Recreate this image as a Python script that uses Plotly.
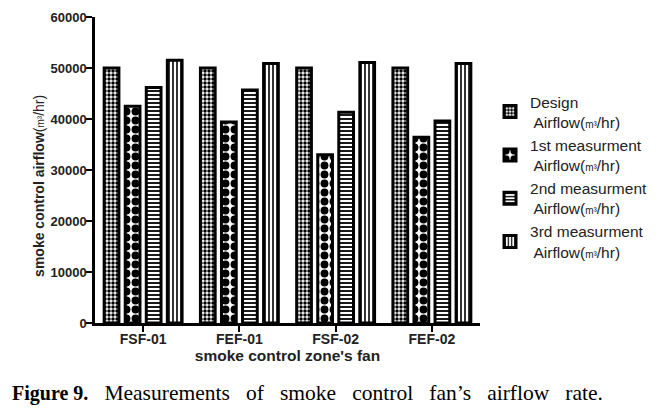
import plotly.graph_objects as go

categories = ["FSF-01", "FEF-01", "FSF-02", "FEF-02"]
design = [50000, 50000, 50000, 50000]
first = [42500, 39400, 33000, 36400]
second = [46200, 45700, 41300, 39600]
third = [51500, 50900, 51100, 50900]
y_ticks = [0, 10000, 20000, 30000, 40000, 50000, 60000]
y_tick_labels = ["0", "10000", "20000", "30000", "40000", "50000", "60000"]

unit = "Airflow(<span style='font-size:10px'>m³</span>/hr)"
names = ["Design<br> " + unit, "1st measurment<br> " + unit,
         "2nd measurment<br> " + unit, "3rd measurment<br> " + unit]
series = [design, first, second, third]
patterns = [dict(shape=".", size=4, solidity=0.6, fgcolor="black", bgcolor="white", fgopacity=1),
            dict(shape=".", size=9, solidity=0.6, fgcolor="black", bgcolor="white", fgopacity=1),
            dict(shape="-", size=4, solidity=0.45, fgcolor="black", bgcolor="white", fgopacity=1),
            dict(shape="|", size=4, solidity=0.4, fgcolor="black", bgcolor="white", fgopacity=1)]

fig = go.Figure()
for nm, vals, pat in zip(names, series, patterns):
    fig.add_trace(go.Bar(x=categories, y=vals, name=nm,
                         marker=dict(color="white", pattern=pat,
                                     line=dict(color="black", width=3))))

# the page body adds an 8px offset, so the figure is sized/placed to compensate
fig.update_layout(
    width=651, height=399,
    margin=dict(l=87, r=179, t=9, b=84, autoexpand=False),
    paper_bgcolor="white", plot_bgcolor="white",
    barmode="group", bargap=0.125, bargroupgap=0.3,
    font=dict(family="Liberation Sans, Arial", size=13, color="#222"),
    showlegend=True,
    legend=dict(x=1.026, y=0.778, xanchor="left", yanchor="top",
                font=dict(size=15.5, color="#222"), tracegroupgap=0,
                bgcolor="rgba(0,0,0,0)"),
    xaxis=dict(range=[-0.5, 3.5], showline=True, linecolor="black", linewidth=2.5,
               automargin=False,
               ticks="outside", ticklen=6, tickwidth=2, tickcolor="black",
               ticklabelstandoff=-5,
               tickfont=dict(size=14, color="#222", weight="bold"),
               title=dict(text="smoke control zone's fan", standoff=4,
                          font=dict(size=15.5, color="#222", weight="bold")),
               showgrid=False, zeroline=False),
    yaxis=dict(range=[0, 60000], tickvals=y_ticks, ticktext=y_tick_labels,
               automargin=False,
               showline=True, linecolor="black",
               linewidth=2.5, ticks="outside", ticklen=6, tickwidth=2, tickcolor="black",
               ticklabelstandoff=-3,
               tickfont=dict(size=13, color="#222", weight="bold"),
               showgrid=False, zeroline=False),
)

fig.add_annotation(text="<b>smoke control airflow</b>(<span style='font-size:10px'>m³</span>/hr)",
                   textangle=-90, xref="paper", yref="paper", x=-0.1455, y=0.448,
                   xanchor="center", yanchor="middle", showarrow=False,
                   font=dict(size=14, color="#222"))

sp = "\u00a0\u00a0\u00a0"
cap = ("<span style='font-family:Liberation Serif;font-weight:bold;font-size:20px'>Figure 9.</span>"
       + sp + "Measurements" + sp + "of" + sp + "smoke" + sp + "control" + sp + "fan’s" + sp
       + "airflow" + sp + "rate.")
fig.add_annotation(text=cap,
                   xref="paper", yref="paper", x=-0.221, y=-0.229, xanchor="left", yanchor="middle",
                   showarrow=False, font=dict(family="Liberation Serif, Times New Roman", size=21.5, color="black"))

fig.write_html("out.html")
